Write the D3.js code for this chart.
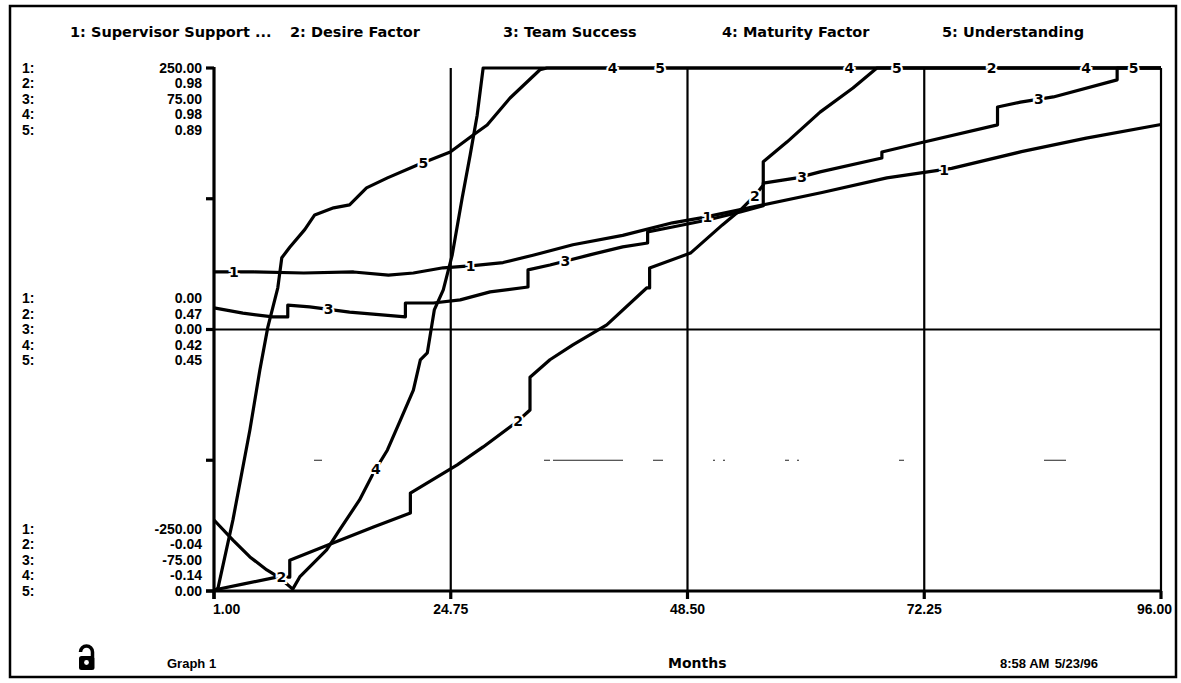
<!DOCTYPE html>
<html><head><meta charset="utf-8">
<script src="https://cdn.jsdelivr.net/npm/d3@7"></script>
<style>
html,body{margin:0;padding:0;background:#fff;}
text{font-family:"Liberation Sans",Arial,sans-serif;font-weight:bold;fill:#000;}
text.wide{font-family:"DejaVu Sans",sans-serif;}
</style></head>
<body>
<svg id="chart" width="1181" height="683"></svg>
<script>
// ---- data ----
const seriesNames = ["Supervisor Support ...", "Desire Factor", "Team Success", "Maturity Factor", "Understanding"];
const seriesMin = [-250, -0.04, -75, -0.14, 0];
const seriesMax = [250, 0.98, 75, 0.98, 0.89];
const topLabels = ["250.00", "0.98", "75.00", "0.98", "0.89"];
const midLabels = ["0.00", "0.47", "0.00", "0.42", "0.45"];
const botLabels = ["-250.00", "-0.04", "-75.00", "-0.14", "0.00"];
const xTicks = [1.00, 24.75, 48.50, 72.25, 96.00];
const xTickLabels = ["1.00", "24.75", "48.50", "72.25", "96.00"];

// [month, value]
const supervisorSupport = [[1,55],[5,55],[10,54],[15,55],[18.5,52],[21,54],[24,59],[27,61],[30,64],[33,71],[37,81],[42,90],[47,102],[50,107],[55,117],[62,131],[68.5,145],[75,154],[82,170],[88.5,183],[96,196]];
const desireFactor = [[1,-0.038],[4,-0.026],[7.3,-0.013],[8.6,-0.013],[8.6,0.02],[13,0.054],[17,0.085],[20.7,0.112],[20.7,0.151],[25.4,0.206],[28,0.241],[31.4,0.29],[32.7,0.313],[32.7,0.377],[34.7,0.411],[37,0.44],[40.4,0.479],[44.4,0.551],[44.7,0.551],[44.7,0.59],[48.8,0.619],[52,0.674],[53.8,0.703],[55.3,0.732],[56.1,0.752],[56.1,0.797],[58.5,0.836],[61.8,0.894],[65.1,0.941],[67.5,0.98],[96,0.98]];
const teamSuccess = [[1,6.2],[3.9,4.7],[6.9,3.6],[8.4,3.6],[8.4,7.0],[10.6,6.5],[14.6,5.0],[20.2,3.6],[20.2,7.6],[23,7.6],[25.7,8.5],[28.7,10.8],[32.5,12.2],[32.5,17.1],[34.7,18.5],[38.7,21.4],[42,23.7],[44.5,24.8],[44.5,28.0],[47,29.4],[50.5,31.4],[53.8,33.7],[56.1,35.5],[56.1,42.0],[59.5,43.5],[61.8,45.2],[68,49.2],[68,50.9],[71.8,53.5],[79.6,58.7],[79.6,63.8],[81.9,65.2],[85.2,66.7],[91.6,71.6],[91.6,75],[96,75]];
const maturityFactor = [[1,0.012],[2.9,-0.031],[4.6,-0.067],[6.3,-0.095],[7.6,-0.112],[8.9,-0.136],[9.6,-0.11],[12.3,-0.052],[13.6,-0.009],[15.6,0.055],[17,0.113],[18.4,0.162],[19.7,0.226],[21,0.29],[21.7,0.355],[22.4,0.37],[23.1,0.462],[24,0.505],[24.9,0.58],[25.9,0.702],[26.7,0.794],[27.4,0.879],[28,0.98],[96,0.98]];
const understanding = [[1,0],[1.4,0.005],[2.9,0.121],[4.6,0.274],[5.6,0.376],[6.4,0.449],[7.4,0.516],[7.8,0.567],[8.6,0.585],[10.1,0.615],[11.1,0.64],[13,0.652],[14.6,0.657],[16.3,0.686],[18.4,0.703],[21.4,0.725],[24.7,0.747],[27,0.776],[28.4,0.793],[30.7,0.839],[33.7,0.887],[34.4,0.89],[96,0.89]];
const allSeries = [supervisorSupport, desireFactor, teamSuccess, maturityFactor, understanding];

// label placement (months)
const labelStart = 3, labelSeriesStep = 4.75, labelRepeat = 23.75;

// ---- layout ----
const svg = d3.select("#chart");
const L = 214, R = 1161, T = 68, B = 591;
const x = d3.scaleLinear().domain([1, 96]).range([L, R]);
const yScales = seriesMin.map((mn, i) => d3.scaleLinear().domain([mn, seriesMax[i]]).range([B, T]));
const frac = d3.scaleLinear().domain([0, 1]).range([B, T]);

// outer frame
svg.append("rect").attr("x", 10).attr("y", 6).attr("width", 1166).attr("height", 671)
  .attr("fill", "none").attr("stroke", "#000").attr("stroke-width", 2.5);

// legend
const legendX = [70, 290, 503, 722, 942];
seriesNames.forEach((n, i) => {
  svg.append("text").attr("class", "wide").attr("x", legendX[i]).attr("y", 37).attr("font-size", 14.5)
    .text((i + 1) + ": " + n);
});

// grid
const g = svg.append("g");
xTicks.slice(1).forEach(t => {
  g.append("line").attr("x1", x(t)).attr("x2", x(t)).attr("y1", T).attr("y2", B)
    .attr("stroke", "#000").attr("stroke-width", 2.2);
});
g.append("line").attr("x1", L).attr("x2", R).attr("y1", frac(0.5)).attr("y2", frac(0.5))
  .attr("stroke", "#000").attr("stroke-width", 2.2);
// faint dotted quarter line
g.append("line").attr("x1", L).attr("x2", R).attr("y1", frac(0.25)).attr("y2", frac(0.25))
  .attr("stroke", "#222").attr("stroke-width", 1.2)
  .attr("stroke-dasharray", "0,100,8,222,6,3,70,30,10,50,2,8,2,60,4,8,2,100,5,140,22,60");

// axes
g.append("line").attr("x1", L).attr("x2", L).attr("y1", T - 1).attr("y2", B + 8)
  .attr("stroke", "#000").attr("stroke-width", 3.2);
g.append("line").attr("x1", L - 8).attr("x2", R + 1).attr("y1", B).attr("y2", B)
  .attr("stroke", "#000").attr("stroke-width", 3.2);
[0, 0.25, 0.5, 0.75, 1].forEach(f => {
  g.append("line").attr("x1", L - 8).attr("x2", L).attr("y1", frac(f)).attr("y2", frac(f))
    .attr("stroke", "#000").attr("stroke-width", 3.2);
});
xTicks.forEach(t => {
  g.append("line").attr("x1", x(t)).attr("x2", x(t)).attr("y1", B).attr("y2", B + 8)
    .attr("stroke", "#000").attr("stroke-width", 3.2);
});
xTickLabels.forEach((lab, i) => {
  const anchor = i === 0 ? "start" : (i === xTickLabels.length - 1 ? "end" : "middle");
  const xx = i === 0 ? x(xTicks[i]) - 1 : (i === xTickLabels.length - 1 ? x(xTicks[i]) + 11 : x(xTicks[i]));
  svg.append("text").attr("x", xx).attr("y", B + 23).attr("font-size", 14)
    .attr("text-anchor", anchor).text(lab);
});

// y label groups
function yGroup(labels, centerY) {
  labels.forEach((lab, i) => {
    const yy = centerY + (i - 2) * 15.5;
    svg.append("text").attr("x", 22).attr("y", yy).attr("dy", "0.35em").attr("font-size", 14).text((i + 1) + ":");
    svg.append("text").attr("x", 202).attr("y", yy).attr("dy", "0.35em").attr("font-size", 14)
      .attr("text-anchor", "end").text(lab);
  });
}
yGroup(topLabels, frac(1) + 31);
yGroup(midLabels, frac(0.5));
yGroup(botLabels, frac(0) - 31);

// lines
const lineGen = (i) => d3.line().x(d => x(d[0])).y(d => yScales[i](d[1]));
allSeries.forEach((s, i) => {
  svg.append("path").datum(s).attr("d", lineGen(i)).attr("fill", "none")
    .attr("stroke", "#000").attr("stroke-width", 3.2).attr("stroke-linejoin", "round");
});

// labels on lines
function valueAt(s, m) {
  for (let k = 0; k < s.length - 1; k++) {
    const a = s[k], b = s[k + 1];
    if (m >= a[0] && m <= b[0] && b[0] > a[0]) {
      return a[1] + (b[1] - a[1]) * (m - a[0]) / (b[0] - a[0]);
    }
  }
  return s[s.length - 1][1];
}
allSeries.forEach((s, i) => {
  for (let j = 0; j < 4; j++) {
    const m = labelStart + i * labelSeriesStep + j * labelRepeat;
    const v = valueAt(s, m);
    svg.append("text").attr("class", "wide").attr("x", x(m)).attr("y", yScales[i](v)).attr("dy", "0.36em")
      .attr("text-anchor", "middle").attr("font-size", 14)
      .attr("stroke", "#fff").attr("stroke-width", 4).attr("paint-order", "stroke")
      .text(i + 1);
  }
});

// footer
const lock = svg.append("g");
lock.append("path").attr("d", "M80.5,652 A6,6 0 0 1 92.5,652 L92.5,657").attr("fill", "none")
  .attr("stroke", "#000").attr("stroke-width", 3.5);
lock.append("rect").attr("x", 79).attr("y", 656).attr("width", 15.5).attr("height", 14).attr("rx", 2.5).attr("fill", "#000");
lock.append("circle").attr("cx", 86.5).attr("cy", 662.5).attr("r", 2.4).attr("fill", "#fff");
svg.append("text").attr("x", 167).attr("y", 668).attr("font-size", 13).text("Graph 1");
svg.append("text").attr("class", "wide").attr("x", 668).attr("y", 668).attr("font-size", 14).text("Months");
svg.append("text").attr("x", 1000).attr("y", 668).attr("font-size", 13).text("8:58 AM");
svg.append("text").attr("x", 1098).attr("y", 668).attr("font-size", 13).attr("text-anchor", "end").text("5/23/96");
</script>
</body></html>
